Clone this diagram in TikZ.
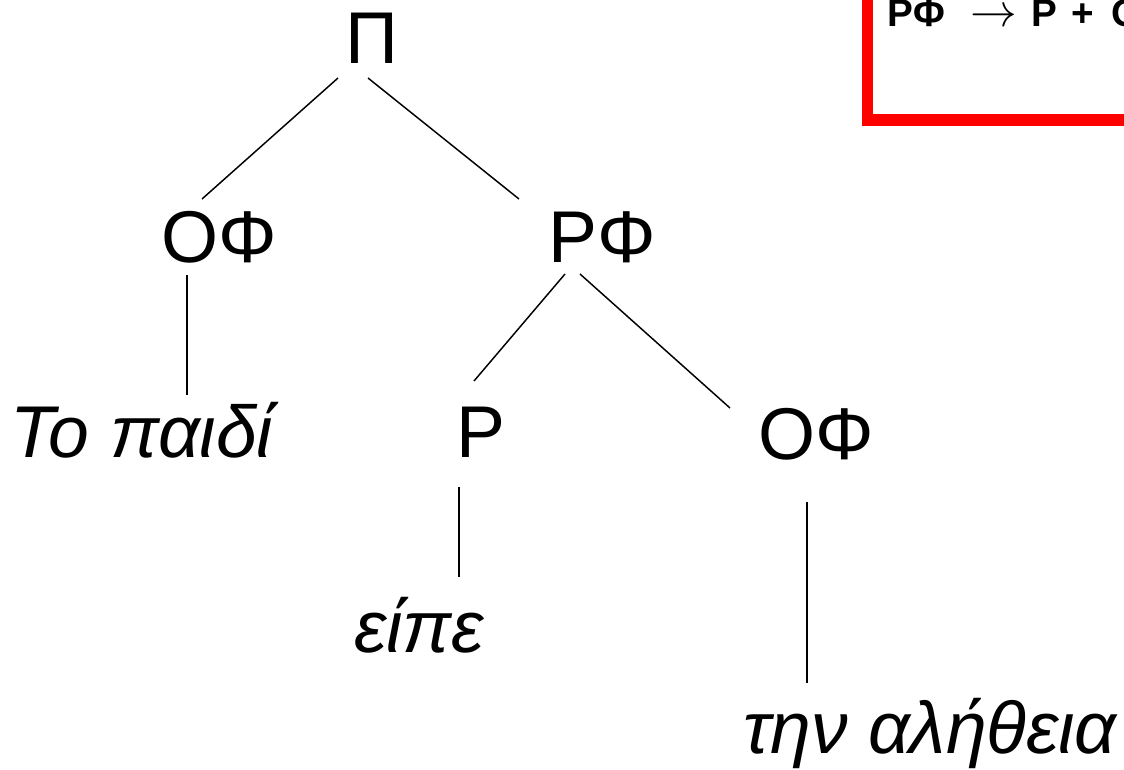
\documentclass[tikz,border=0pt]{standalone}
\usepackage{fontspec}
\setmainfont{Liberation Sans}
\begin{document}
\begin{tikzpicture}[x=0.75pt,y=-0.75pt,
  lab/.style={font=\fontsize{55}{60}\selectfont, inner sep=0pt, anchor=base},
  word/.style={font=\fontsize{55}{60}\selectfont\itshape, inner sep=0pt, anchor=base},
  edge/.style={line width=1.1pt, black},
  rulebox/.style={draw=red, line width=8.3pt},
  ruletext/.style={font=\fontsize{29}{30}\selectfont\bfseries, inner sep=0pt, anchor=base west}]
\useasboundingbox (0,0) rectangle (1124,769);
\begin{scope}
  \clip (0,0) rectangle (1124,769);
  \path[rulebox] (867.5,-30) rectangle (1250,120);
  \node[ruletext] (rule) at (887,26.5) {ΡΦ\hspace{19pt}\raisebox{0pt}{\resizebox{35pt}{!}{$\rightarrow$}}\hspace{11pt}Ρ\hspace{11pt}+\hspace{13pt}Ο};
\end{scope}
% nodes
\node[lab] (S) at (372,63) {Π};
\node[lab] (NP1) at (219,262) {ΟΦ};
\node[lab] (VP) at (602,262) {ΡΦ};
\node[word] (w1) at (142,457) {Το παιδί};
\node[lab] (V) at (481,457) {Ρ};
\node[lab] (NP2) at (816,459) {ΟΦ};
\node[word] (w2) at (419,652) {είπε};
\node[word] (w3) at (930,753) {την αλήθεια};
% connector end points
\coordinate (S-l) at (338,78);
\coordinate (S-r) at (368,78);
\coordinate (NP1-t) at (202,199);
\coordinate (VP-t) at (519,199);
\coordinate (NP1-b) at (187,275);
\coordinate (w1-t) at (187,395);
\coordinate (VP-l) at (565,274);
\coordinate (VP-r) at (580,274);
\coordinate (V-t) at (474,381);
\coordinate (NP2-t) at (730,408);
\coordinate (V-b) at (459,487);
\coordinate (w2-t) at (459,577);
\coordinate (NP2-b) at (807,502);
\coordinate (w3-t) at (807,683);
% connectors
\draw[edge] (S-l) -- (NP1-t);
\draw[edge] (S-r) -- (VP-t);
\draw[edge] (NP1-b) -- (w1-t);
\draw[edge] (VP-l) -- (V-t);
\draw[edge] (VP-r) -- (NP2-t);
\draw[edge] (V-b) -- (w2-t);
\draw[edge] (NP2-b) -- (w3-t);
\end{tikzpicture}
\end{document}
